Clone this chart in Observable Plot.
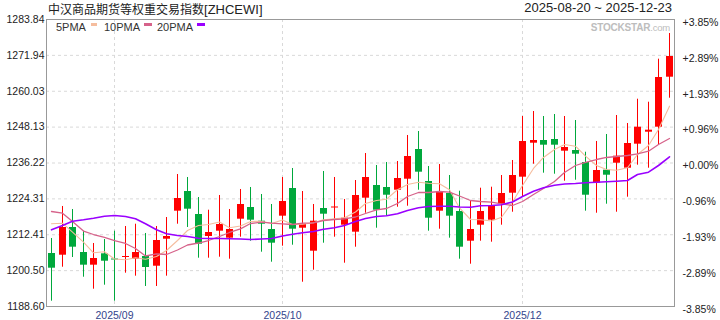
<!DOCTYPE html>
<html><head><meta charset="utf-8">
<script src="https://cdn.jsdelivr.net/npm/d3@7"></script>
<script src="https://cdn.jsdelivr.net/npm/@observablehq/plot@0.6"></script>
<style>
body{margin:0;background:#fff;}
#wrap{position:relative;width:720px;height:320px;font-family:"Liberation Sans",Arial,"Noto Sans CJK SC",sans-serif;color:#222;}
#wrap svg{position:absolute;left:0;top:0;}
.ov{position:absolute;white-space:nowrap;}
</style></head><body>
<div id="wrap"></div>
<script>
const titleZh = "中汉商品期货等权重交易指数";
const titleCode = "[ZHCEWI]";
const dateRange = "2025-08-20 ~ 2025-12-23";
const watermark = ["STOCKSTAR", ".com"];

const open = [1206.19,1205.62,1214.82,1206.52,1202.31,1206.09,1204.36,1204.86,1204.30,1205.19,
1201.97,1210.93,1220.23,1226.76,1219.13,1211.83,1213.59,1211.27,1217.57,1221.45,
1216.91,1214.15,1218.57,1227.76,1214.58,1206.95,1221.12,1221.29,1215.58,1213.26,
1224.54,1228.75,1228.09,1227.19,1230.84,1240.70,1230.08,1220.23,1226.10,1220.13,
1210.27,1215.58,1217.24,1222.55,1226.20,1231.51,1242.79,1243.69,1244.02,1240.14,
1240.37,1236.39,1229.52,1233.83,1236.15,1234.49,1242.46,1246.44,1248.10,1264.69];
const high = [1211.17,1221.79,1220.79,1213.59,1209.51,1210.83,1213.59,1215.15,1215.91,1212.83,
1215.15,1218.13,1232.40,1231.41,1224.77,1220.56,1225.44,1220.79,1227.43,1228.09,
1225.77,1222.45,1231.41,1234.40,1226.76,1222.45,1233.40,1231.41,1224.11,1230.41,
1239.37,1235.39,1236.39,1236.72,1245.35,1246.67,1235.06,1235.72,1232.07,1226.86,
1223.54,1227.86,1228.19,1232.07,1237.05,1251.65,1253.31,1251.65,1252.31,1251.65,
1250.32,1239.80,1243.36,1245.68,1251.98,1249.33,1257.39,1256.40,1270.67,1279.19];
const low = [1190.36,1201.64,1204.86,1198.32,1194.34,1195.67,1190.36,1199.65,1198.66,1195.24,
1195.24,1198.66,1215.91,1214.82,1204.63,1204.63,1204.96,1204.30,1211.60,1210.27,
1206.62,1203.30,1208.61,1208.94,1196.66,1200.65,1209.61,1211.60,1202.97,1208.28,
1219.56,1214.58,1218.57,1221.55,1221.88,1227.19,1213.59,1214.25,1211.27,1204.30,
1202.64,1210.27,1209.94,1215.58,1219.89,1225.10,1235.82,1232.84,1232.50,1230.18,
1230.51,1220.23,1219.56,1222.55,1219.89,1224.87,1235.49,1234.49,1242.13,1257.72];
const close = [1201.31,1214.82,1208.28,1202.31,1204.53,1203.63,1204.03,1205.19,1206.52,1201.54,
1210.50,1211.83,1224.44,1220.89,1209.27,1213.16,1215.81,1214.15,1222.45,1217.24,
1215.91,1209.61,1223.44,1214.25,1215.91,1216.91,1219.23,1221.62,1217.90,1225.44,
1231.41,1220.56,1225.53,1231.08,1238.38,1233.17,1217.90,1226.43,1218.57,1208.28,
1214.15,1220.13,1221.88,1226.10,1232.07,1243.36,1243.69,1242.13,1242.13,1241.36,
1239.14,1225.53,1233.73,1232.17,1238.48,1242.69,1248.10,1247.11,1264.59,1271.56];

const ma5 = [1216.04,1216.24,1213.26,1209.94,1206.42,1206.75,1204.36,1204.10,1204.76,1204.30,
1205.19,1207.18,1210.50,1213.82,1215.48,1215.81,1216.64,1214.72,1215.31,1216.81,
1216.91,1216.14,1217.31,1215.81,1215.91,1216.38,1217.37,1217.70,1218.04,1219.96,
1222.78,1223.78,1224.21,1227.33,1229.09,1229.85,1229.52,1229.32,1227.33,1221.29,
1217.47,1217.37,1216.97,1218.23,1223.28,1228.75,1234.40,1238.05,1240.70,1242.36,
1241.80,1238.48,1235.39,1234.06,1233.83,1234.63,1239.04,1242.03,1247.34,1255.07];
const ma10 = [1220.13,1219.56,1216.81,1213.65,1212.49,1211.50,1210.50,1209.51,1207.85,1205.36,
1206.09,1205.86,1207.35,1209.01,1209.67,1210.50,1211.83,1213.16,1214.38,1216.14,
1216.58,1216.24,1216.04,1215.81,1216.24,1216.38,1217.14,1217.47,1217.70,1218.30,
1219.46,1220.69,1221.12,1222.78,1225.10,1226.43,1226.43,1226.76,1226.53,1225.27,
1223.78,1223.44,1223.21,1222.68,1222.12,1223.44,1225.77,1227.76,1230.08,1233.07,
1235.39,1236.39,1237.38,1238.05,1238.38,1238.71,1239.27,1240.14,1242.36,1244.35];
const ma20 = [1214.05,1215.48,1216.91,1217.37,1217.90,1218.57,1218.80,1218.47,1217.70,1216.04,
1214.05,1212.73,1212.16,1211.83,1211.27,1211.17,1211.17,1211.07,1211.00,1210.83,
1211.00,1211.17,1212.00,1212.59,1213.06,1213.49,1214.25,1214.72,1215.48,1216.81,
1217.80,1218.47,1218.70,1219.36,1220.46,1221.35,1221.79,1221.88,1221.88,1221.62,
1221.55,1222.02,1222.12,1222.35,1223.28,1225.10,1226.86,1227.99,1228.85,1229.25,
1229.42,1229.65,1229.85,1229.98,1230.18,1230.41,1232.40,1233.17,1235.39,1238.28];

const yTicks = [1188.60,1200.50,1212.41,1224.31,1236.22,1248.13,1260.03,1271.94,1283.84];
const pctLabels = ["-3.85%","-2.89%","-1.93%","-0.96%","+0.00%","+0.96%","+1.93%","+2.89%","+3.85%"];
const xTickIdx = [6,22,45];
const xTickLabels = ["2025/09","2025/10","2025/12"];
const maNames = ["5PMA","10PMA","20PMA"];

const RED = "#ff0000", GREEN = "#00a83c";
const MA_COLORS = ["#f5bd9e","#d6628a","#9a00ff"];

const rows = open.map((o, i) => ({
  i, o, h: high[i], l: low[i], c: close[i],
  m5: ma5[i], m10: ma10[i], m20: ma20[i],
  col: close[i] >= o ? RED : GREEN
}));

const gridStyle = {stroke: "#d9d9d9", strokeOpacity: 1, strokeDasharray: "3,3"};

const chart = Plot.plot({
  width: 720, height: 320,
  marginTop: 19, marginBottom: 14, marginLeft: 46, marginRight: 46,
  style: {fontFamily: '"Liberation Sans", Arial, sans-serif', fontSize: "10.5px", background: "transparent", color: "#222"},
  x: {type: "linear", domain: [-0.5, rows.length - 0.5], round: true},
  y: {domain: [yTicks[0], yTicks[yTicks.length - 1]]},
  color: {type: "identity"},
  marks: [
    Plot.gridY(yTicks.slice(1, -1), gridStyle),
    Plot.gridX(xTickIdx, gridStyle),
    Plot.ruleX(rows, {x: "i", y1: "l", y2: "h", stroke: "col", strokeWidth: 1}),
    Plot.ruleX(rows, {x: "i", y1: "o", y2: "c", stroke: "col", strokeWidth: 7}),
    Plot.lineY(rows, {x: "i", y: "m5", stroke: MA_COLORS[0], strokeWidth: 1.1}),
    Plot.lineY(rows, {x: "i", y: "m10", stroke: MA_COLORS[1], strokeWidth: 1.3}),
    Plot.lineY(rows, {x: "i", y: "m20", stroke: MA_COLORS[2], strokeWidth: 1.6}),
    Plot.axisY(yTicks, {anchor: "left", tickSize: 0, tickPadding: 2, label: null, fill: "#222",
      tickFormat: d => d.toFixed(2)}),
    Plot.axisY(yTicks, {anchor: "right", tickSize: 0, tickPadding: 8, label: null, fill: "#222", dy: 3,
      tickFormat: d => pctLabels[yTicks.indexOf(d)]}),
    Plot.axisX(xTickIdx, {anchor: "bottom", tickSize: 0, tickPadding: 5, label: null, fill: "#33458c",
      tickFormat: d => xTickLabels[xTickIdx.indexOf(d)]}),
    Plot.frame({stroke: "#999"})
  ]
});

const wrap = document.getElementById("wrap");
wrap.appendChild(chart);

function ov(html, css) {
  const d = document.createElement("div");
  d.className = "ov";
  d.innerHTML = html;
  Object.assign(d.style, css);
  wrap.appendChild(d);
  return d;
}
// title row
ov(`<span style="font-family:'Noto Sans CJK SC';font-size:12px">${titleZh}</span><span style="font-size:13px">${titleCode}</span>`,
  {left: "48px", top: "1px", lineHeight: "15px", color: "#222"});
ov(dateRange, {right: "48px", top: "1px", fontSize: "13px", lineHeight: "13px", color: "#222"});
// watermark
ov(`<b>${watermark[0]}</b><span style="font-size:9.5px">${watermark[1]}</span>`,
  {right: "50px", top: "22px", fontSize: "10px", lineHeight: "11px", color: "#bdbdbd", letterSpacing: "-0.2px"});
// legend
const legendPos = [{t: 56, s: 91, w: 6}, {t: 104, s: 144, w: 8}, {t: 157, s: 197, w: 8}];
maNames.forEach((name, k) => {
  ov(name, {left: legendPos[k].t + "px", top: "22px", fontSize: "11px", lineHeight: "11px", color: "#333"});
  const sw = ov("", {left: legendPos[k].s + "px", top: "23px", width: legendPos[k].w + "px", height: "3px", background: MA_COLORS[k]});
});
</script>
</body></html>
